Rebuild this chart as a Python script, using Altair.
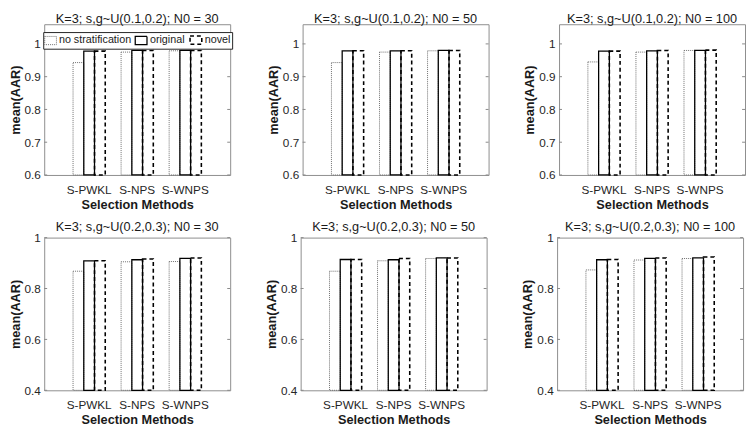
import altair as alt
import pandas as pd

methods = ["S-PWKL", "S-NPS", "S-WNPS"]
series = ["no stratification", "original", "novel"]

titles = [
    "K=3; s,g~U(0.1,0.2); N0 = 30",
    "K=3; s,g~U(0.1,0.2); N0 = 50",
    "K=3; s,g~U(0.1,0.2); N0 = 100",
    "K=3; s,g~U(0.2,0.3); N0 = 30",
    "K=3; s,g~U(0.2,0.3); N0 = 50",
    "K=3; s,g~U(0.2,0.3); N0 = 100",
]

# mean(AAR) per panel, per series, per method
p1_nostrat = [0.943, 0.975, 0.979]
p1_original = [0.978, 0.980, 0.980]
p1_novel = [0.978, 0.980, 0.980]

p2_nostrat = [0.943, 0.975, 0.979]
p2_original = [0.979, 0.979, 0.980]
p2_novel = [0.979, 0.979, 0.980]

p3_nostrat = [0.945, 0.975, 0.980]
p3_original = [0.978, 0.979, 0.980]
p3_novel = [0.978, 0.980, 0.981]

p4_nostrat = [0.868, 0.905, 0.906]
p4_original = [0.909, 0.913, 0.918]
p4_novel = [0.909, 0.916, 0.920]

p5_nostrat = [0.868, 0.909, 0.918]
p5_original = [0.914, 0.913, 0.920]
p5_novel = [0.914, 0.918, 0.920]

p6_nostrat = [0.873, 0.912, 0.918]
p6_original = [0.913, 0.918, 0.920]
p6_novel = [0.914, 0.920, 0.924]

panel_values = [
    [p1_nostrat, p1_original, p1_novel],
    [p2_nostrat, p2_original, p2_novel],
    [p3_nostrat, p3_original, p3_novel],
    [p4_nostrat, p4_original, p4_novel],
    [p5_nostrat, p5_original, p5_novel],
    [p6_nostrat, p6_original, p6_novel],
]

top_domain = [0.6, 1.06]
top_ticks = [0.6, 0.7, 0.8, 0.9, 1.0]
bottom_domain = [0.4, 1.0]
bottom_ticks = [0.4, 0.6, 0.8, 1.0]

W = 190
H_TOP = 154
H_BOTTOM = 156
FONT = "Liberation Sans"


def panel(idx, domain, ticks, height, show_legend):
    rows = []
    for s, vals in zip(series, panel_values[idx]):
        for m, v in zip(methods, vals):
            rows.append({"method": m, "series": s, "value": v})
    df = pd.DataFrame(rows)

    if show_legend:
        legend = alt.Legend(
            title=None,
            orient="none",
            legendX=-1,
            legendY=8,
            direction="horizontal",
            symbolType="M-1,-0.7H1V0.7H-1Z",
            symbolSize=144,
            symbolFillColor="white",
            fillColor="white",
            strokeColor="#222222",
            padding=1,
            labelFontSize=11,
            labelFont=FONT,
            labelColor="#1a1a1a",
            labelOffset=2,
            columnPadding=1,
        )
    else:
        legend = None

    y_scale = alt.Scale(domain=domain, zero=False, nice=False)
    y_axis = alt.Axis(values=ticks, format="~g", title="mean(AAR)", labelOverlap=False)

    bars = alt.Chart(df).mark_bar(fill="transparent").encode(
        x=alt.X(
            "method:N",
            sort=methods,
            scale=alt.Scale(paddingInner=0.33, paddingOuter=0.6),
            axis=alt.Axis(title="Selection Methods", labelAngle=0),
        ),
        xOffset=alt.XOffset(
            "series:N",
            sort=series,
            scale=alt.Scale(domain=series, paddingInner=0, paddingOuter=0),
        ),
        y=alt.Y("value:Q", scale=y_scale, axis=y_axis),
        y2=alt.datum(domain[0]),
        stroke=alt.Stroke(
            "series:N",
            scale=alt.Scale(domain=series, range=["#6f6f6f", "#000000", "#000000"]),
            legend=legend,
        ),
        strokeDash=alt.StrokeDash(
            "series:N",
            scale=alt.Scale(domain=series, range=[[1, 1], [1, 0], [4, 3]]),
            legend=legend,
        ),
        strokeWidth=alt.StrokeWidth(
            "series:N",
            scale=alt.Scale(domain=series, range=[1, 1.6, 1.3]),
            legend=legend,
        ),
    )

    tick_df = pd.DataFrame({"t": ticks})
    left_ticks = alt.Chart(tick_df).mark_rule(color="#888888", strokeWidth=1).encode(
        y=alt.Y("t:Q", scale=y_scale, axis=y_axis), x=alt.value(0), x2=alt.value(3)
    )
    right_ticks = alt.Chart(tick_df).mark_rule(color="#888888", strokeWidth=1).encode(
        y=alt.Y("t:Q", scale=y_scale, axis=y_axis), x=alt.value(W - 3), x2=alt.value(W)
    )

    return alt.layer(bars, left_ticks, right_ticks).properties(
        width=W, height=height, title=titles[idx]
    )


def indep(c):
    return c.resolve_scale(
        x="independent",
        y="independent",
        xOffset="independent",
        stroke="independent",
        strokeDash="independent",
        strokeWidth="independent",
    ).resolve_legend(
        stroke="independent", strokeDash="independent", strokeWidth="independent"
    )


top = indep(alt.hconcat(
    panel(0, top_domain, top_ticks, H_TOP, True),
    panel(1, top_domain, top_ticks, H_TOP, False),
    panel(2, top_domain, top_ticks, H_TOP, False),
    spacing=34,
))
bottom = indep(alt.hconcat(
    panel(3, bottom_domain, bottom_ticks, H_BOTTOM, False),
    panel(4, bottom_domain, bottom_ticks, H_BOTTOM, False),
    panel(5, bottom_domain, bottom_ticks, H_BOTTOM, False),
    spacing=34,
))

chart = indep(alt.vconcat(top, bottom, spacing=8)).properties(
    padding={"left": 0, "top": 0, "right": 0, "bottom": 0}, background="white"
).configure_view(
    stroke="#8c8c8c", strokeWidth=1
).configure_axis(
    domain=False,
    ticks=False,
    grid=False,
    labelFont=FONT,
    labelFontSize=12,
    labelColor="#262626",
    titleFont=FONT,
    titleFontSize=13,
    titleFontWeight="bold",
    titleColor="#1a1a1a",
).configure_axisX(
    labelPadding=10, titlePadding=3
).configure_axisY(
    labelPadding=4, titlePadding=2
).configure_title(
    font=FONT, fontSize=13, fontWeight="normal", color="#1a1a1a", offset=-2, anchor="middle"
)

chart.save("out.html", embed_options={"renderer": "svg", "actions": False})
